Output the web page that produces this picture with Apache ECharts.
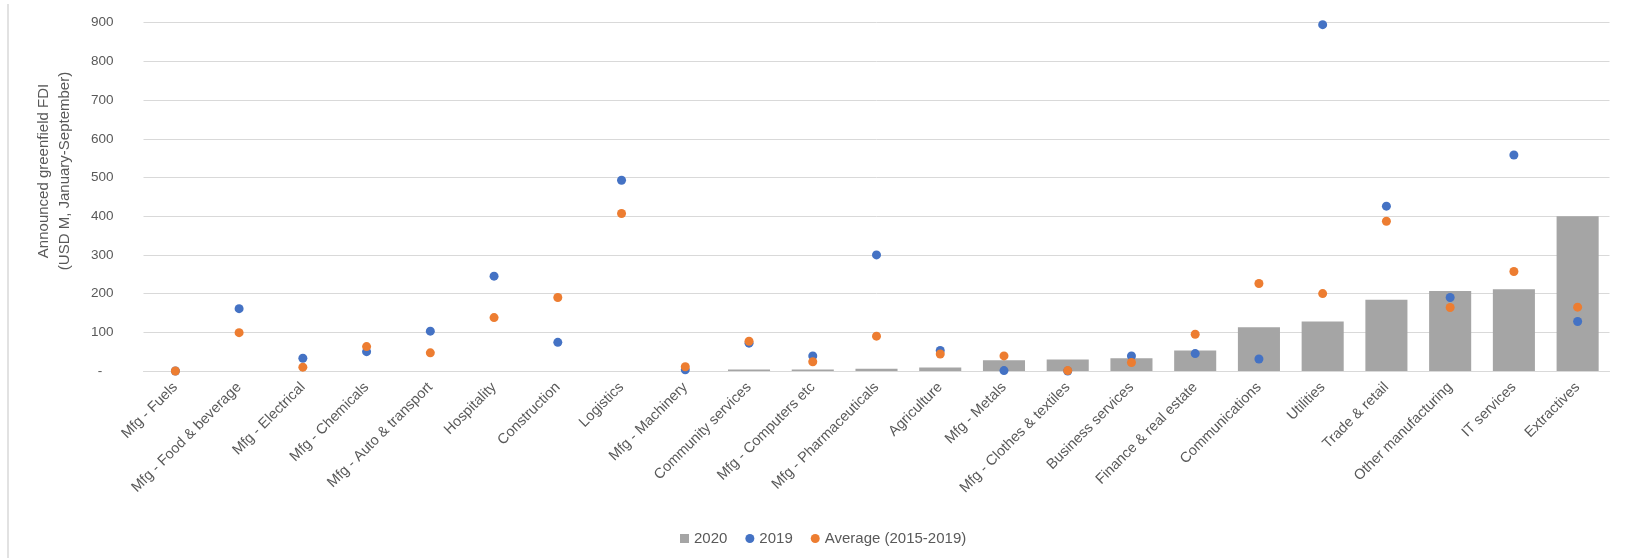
<!DOCTYPE html>
<html>
<head>
<meta charset="utf-8">
<script src="https://cdn.jsdelivr.net/npm/echarts@6/dist/echarts.min.js"></script>
<style>
  html, body { margin: 0; padding: 0; background: #ffffff; }
  #chart { width: 1627px; height: 558px; }
</style>
</head>
<body>
<div id="chart"></div>
<script>
// Sectors, ordered by 2020 value
const categories = [
  'Mfg - Fuels', 'Mfg - Food & beverage', 'Mfg - Electrical', 'Mfg - Chemicals',
  'Mfg - Auto & transport', 'Hospitality', 'Construction', 'Logistics',
  'Mfg - Machinery', 'Community services', 'Mfg - Computers etc', 'Mfg - Pharmaceuticals',
  'Agriculture', 'Mfg - Metals', 'Mfg - Clothes & textiles', 'Business services',
  'Finance & real estate', 'Communications', 'Utilities', 'Trade & retail',
  'Other manufacturing', 'IT services', 'Extractives'
];

// Announced greenfield FDI, USD M, January-September
const values2020 = [0, 0, 0, 0, 0, 0, 0, 0, 0, 4, 4, 6, 9, 28, 30, 33, 53, 113, 128, 184, 207, 211, 400];
const values2019 = [0, 161, 33, 50, 103, 245, 74, 493, 3, 72, 39, 300, 53, 1, 0, 39, 45, 31, 895, 426, 190, 558, 128];
const valuesAvg  = [0, 99, 10, 63, 47, 138, 190, 407, 11, 77, 24, 90, 44, 39, 1, 22, 95, 226, 200, 387, 164, 257, 165];

const seriesNames = ['2020', '2019', 'Average (2015-2019)'];
const yTicks = { min: 0, max: 900, step: 100 };

const textColor = '#595959';
const gridColor = '#D9D9D9';
const fontFamily = '"Liberation Sans", Arial, sans-serif';

const chart = echarts.init(document.getElementById('chart'));

chart.setOption({
  animation: false,
  backgroundColor: '#ffffff',
  textStyle: { fontFamily: fontFamily, color: textColor },
  grid: { left: 143.5, right: 17.5, top: 22.7, bottom: 187, containLabel: false },
  legend: {
    top: 526,
    left: 675,
    itemWidth: 9,
    itemHeight: 9,
    itemGap: 18,
    textStyle: { color: textColor, fontSize: 15, fontFamily: fontFamily },
    data: [
      { name: seriesNames[0], icon: 'rect' },
      { name: seriesNames[1], icon: 'circle' },
      { name: seriesNames[2], icon: 'circle' }
    ]
  },
  xAxis: {
    type: 'category',
    data: categories,
    axisLine: { show: true, lineStyle: { color: gridColor, width: 1 } },
    axisTick: { show: false },
    axisLabel: {
      interval: 0,
      rotate: 45,
      margin: 14,
      color: textColor,
      fontSize: 14.5,
      fontFamily: fontFamily
    }
  },
  yAxis: {
    type: 'value',
    min: yTicks.min,
    max: yTicks.max,
    interval: yTicks.step,
    axisLine: { show: false },
    axisTick: { show: false },
    splitLine: { lineStyle: { color: gridColor, width: 1 } },
    axisLabel: {
      margin: 30,
      color: textColor,
      fontSize: 13.5,
      fontFamily: fontFamily,
      formatter: function (v) { return v === 0 ? '-   ' : String(v); }
    }
  },
  graphic: [
    {
      type: 'line',
      shape: { x1: 8, y1: 4, x2: 8, y2: 558 },
      style: { stroke: gridColor, lineWidth: 1.5 }
    },
    {
      type: 'text',
      x: 54,
      y: 171,
      rotation: Math.PI / 2,
      style: {
        text: 'Announced greenfield FDI\n(USD M, January-September)',
        fill: textColor,
        font: '15px ' + fontFamily,
        align: 'center',
        verticalAlign: 'middle',
        lineHeight: 21
      }
    }
  ],
  series: [
    {
      name: seriesNames[0],
      type: 'bar',
      data: values2020,
      barCategoryGap: '34%',
      itemStyle: { color: '#A5A5A5' }
    },
    {
      name: seriesNames[1],
      type: 'scatter',
      data: values2019,
      symbol: 'circle',
      symbolSize: 9,
      itemStyle: { color: '#4472C4', opacity: 1 }
    },
    {
      name: seriesNames[2],
      type: 'scatter',
      data: valuesAvg,
      symbol: 'circle',
      symbolSize: 9,
      itemStyle: { color: '#ED7D31', opacity: 1 }
    }
  ]
});
</script>
</body>
</html>
